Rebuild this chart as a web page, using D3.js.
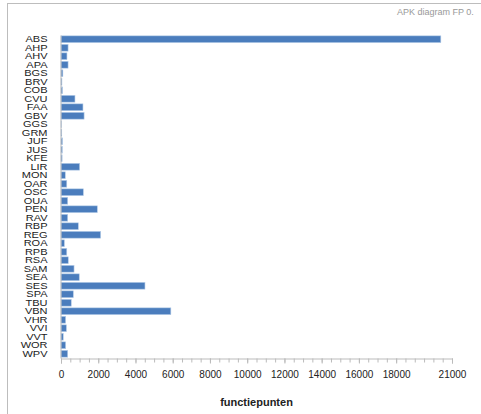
<!DOCTYPE html>
<html>
<head>
<meta charset="utf-8">
<script src="https://cdn.jsdelivr.net/npm/d3@7"></script>
<style>
  body { margin: 0; background: #fff; }
  svg { font-family: "Liberation Sans", Arial, sans-serif; }
</style>
</head>
<body>
<svg id="vis"></svg>
<script>
// Data
const categorieen = ["ABS", "AHP", "AHV", "APA", "BGS", "BRV", "COB", "CVU", "FAA", "GBV",
    "GGS", "GRM", "JUF", "JUS", "KFE", "LIR", "MON", "OAR", "OSC", "OUA",
    "PEN", "RAV", "RBP", "REG", "ROA", "RPB", "RSA", "SAM", "SEA", "SES",
    "SPA", "TBU", "VBN", "VHR", "VVI", "VVT", "WOR", "WPV"];
const functiepunten = [20400, 380, 320, 380, 100, 50, 80, 750, 1180, 1240,
    20, 40, 80, 70, 60, 1000, 230, 310, 1200, 360,
    1950, 360, 930, 2130, 180, 310, 390, 700, 980, 4510,
    660, 550, 5900, 250, 290, 120, 250, 360];
const tickWaarden = [0, 2000, 4000, 6000, 8000, 10000, 12000, 14000, 16000, 18000, 21000];

const WIDTH = 481;
const HEIGHT = 414;
const MARGIN = { top: 35, bottom: 56, right: 29, left: 61 };

const svg = d3.select("#vis")
    .attr("width", WIDTH)
    .attr("height", HEIGHT);

// kader
svg.append("line").attr("x1", 7.5).attr("x2", 7.5).attr("y1", 3).attr("y2", HEIGHT)
    .attr("stroke", "#bdbdbd");
svg.append("line").attr("x1", 7).attr("x2", WIDTH).attr("y1", 3.5).attr("y2", 3.5)
    .attr("stroke", "#bdbdbd");

svg.append("text")
    .attr("x", 397)
    .attr("y", 15)
    .attr("font-size", 9)
    .attr("fill", "#999")
    .text("APK diagram FP 0.");

const escalaX = d3.scaleLinear()
    .domain([0, 21000])
    .range([MARGIN.left, WIDTH - MARGIN.right]);

const escalaY = d3.scaleBand()
    .domain(categorieen)
    .range([MARGIN.top, HEIGHT - MARGIN.bottom])
    .paddingInner(0.2)
    .paddingOuter(0.1);

// balken
svg.append("g")
    .selectAll("rect")
    .data(categorieen)
    .join("rect")
    .attr("x", escalaX(0))
    .attr("y", d => escalaY(d))
    .attr("width", (d, i) => escalaX(functiepunten[i]) - escalaX(0))
    .attr("height", escalaY.bandwidth())
    .attr("fill", "#4b7dbd")
    .attr("stroke", "#b7cde8")
    .attr("stroke-width", 0.6);

// y-as (labels vertically squeezed like in the original)
const ejeY = svg.append("g")
    .attr("transform", `translate(${MARGIN.left - 0.5},0)`)
    .call(d3.axisLeft(escalaY).tickSize(0).tickPadding(13));
ejeY.select(".domain").attr("stroke", "#bbb");
ejeY.selectAll("text")
    .attr("font-size", 11)
    .attr("fill", "#222")
    .attr("dy", "0.36em")
    .attr("transform", "scale(1,0.8)");

// x-as
const yAs = HEIGHT - MARGIN.bottom + 0.5;
const minor = d3.range(0, 21001, 500);
svg.append("g")
    .attr("transform", `translate(0,${yAs})`)
    .selectAll("line")
    .data(minor)
    .join("line")
    .attr("x1", d => escalaX(d) + 0.5)
    .attr("x2", d => escalaX(d) + 0.5)
    .attr("y1", 0)
    .attr("y2", 4)
    .attr("stroke", "#bbb");

const ejeX = svg.append("g")
    .attr("transform", `translate(0,${yAs})`)
    .call(d3.axisBottom(escalaX).tickValues(tickWaarden).tickFormat(d3.format("d")).tickSize(5).tickPadding(7));
ejeX.select(".domain").attr("stroke", "#bbb");
ejeX.selectAll(".tick line").attr("stroke", "#bbb");
ejeX.selectAll("text").attr("font-size", 10).attr("fill", "#222");

svg.append("text")
    .attr("x", (MARGIN.left + WIDTH - MARGIN.right) / 2)
    .attr("y", 406)
    .attr("text-anchor", "middle")
    .attr("font-size", 11)
    .attr("font-weight", "bold")
    .attr("fill", "#222")
    .text("functiepunten");
</script>
</body>
</html>
